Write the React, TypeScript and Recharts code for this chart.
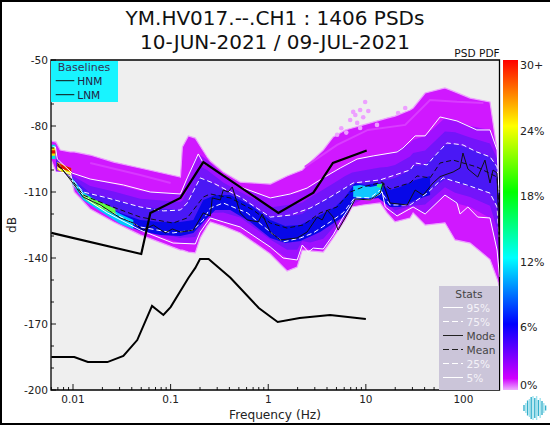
import React from "react";
import {
  ComposedChart,
  Area,
  Line,
  Scatter,
  XAxis,
  YAxis,
  CartesianGrid,
  ReferenceArea,
} from "recharts";

const X_MIN = 0.00595;
const X_MAX = 234;
const Y_MIN = -200;
const Y_MAX = -50;

const xMajor = [0.01, 0.1, 1, 10, 100];
const xMinor = [
  0.006, 0.007, 0.008, 0.009, 0.02, 0.03, 0.04, 0.05, 0.06, 0.07, 0.08, 0.09, 0.2, 0.3, 0.4, 0.5, 0.6,
  0.7, 0.8, 0.9, 2, 3, 4, 5, 6, 7, 8, 9, 20, 30, 40, 50, 60, 70, 80, 90, 200,
];
const yMajor = [-200, -170, -140, -110, -80, -50];
const yMinor = [-190, -180, -160, -150, -130, -120, -100, -90, -70, -60];

const bandFreq = [
  0.006, 0.0067, 0.0074, 0.0094, 0.0103, 0.015, 0.0261, 0.0488, 0.126, 0.132, 0.152, 0.179, 0.201, 0.237, 0.255,
  0.346, 0.517, 1.05, 1.56, 1.98, 2.23, 2.69, 3.66, 4.63, 6.14, 7.24, 9.38, 14, 16.5, 19.9, 28.4, 30.5, 40.5, 64.6,
  82, 117, 187, 221, 234,
];
const outerHigh = [
  -86.8, -87.3, -90.9, -91.8, -91.8, -93.2, -96.4, -99.1, -103.2, -89.5, -84.5, -85.5, -89.1, -94.1, -95.9, -100.9,
  -105.5, -106.4, -102.7, -100.9, -100, -96.4, -90.9, -85, -81.8, -80.9, -79.5, -77.3, -76.4, -75.5, -72.7, -71.8,
  -65, -62.7, -64.5, -67.3, -69.1, -90.9, -113.6,
];
const outerLow = [
  -95.5, -100.9, -100.9, -102.3, -110, -117.7, -123.6, -129.5, -136.4, -136.4, -137.3, -137.7, -130.9, -125.5,
  -123.6, -125.5, -128.6, -138.2, -145.9, -144.1, -136.4, -136.8, -137.3, -130.9, -122.7, -116.8, -115.9, -115,
  -119.5, -123.6, -121.8, -119.5, -125, -124, -131.8, -133.2, -140.7, -149.4, -153,
];
const midFreq = bandFreq.slice(1);
const band95 = [
  -90.9, -96.8, -100, -101.8, -104.1, -106.4, -109.5, -110.9, -110, -102.7, -94.5, -93.2, -95.5, -96.8, -102.3,
  -107.7, -112.7, -110.9, -110.5, -109.5, -107.7, -103.6, -100.9, -97.7, -95.9, -94.5, -93.2, -92.7, -91.8, -87.7,
  -86.4, -84.5, -76.4, -77.3, -80, -81.8, -90.9, -109.1,
];
const band5 = [
  -100.9, -100.9, -101.4, -107.3, -115.5, -121.4, -127.3, -133.2, -133.2, -133.6, -133.6, -128.2, -122.7, -121.8,
  -123.6, -125.9, -135, -140, -140.9, -134.1, -136.4, -135.9, -129.5, -121.4, -115.9, -113.2, -110, -116.8, -120.9,
  -116.8, -116.8, -120, -111.4, -115, -116.8, -121.8, -136.4, -148.6,
];
const innerHigh = [
  -93.2, -97.2, -101.6, -103.1, -107.3, -109.8, -113.1, -114.5, -113.9, -108.4, -100.9, -98.4, -100, -101.1, -105.7,
  -110, -117, -115.9, -115.5, -114.8, -112.5, -108.9, -106.1, -102.7, -101.1, -100.2, -98.9, -98.6, -97.7, -93.9,
  -92.3, -91.1, -82.5, -82.8, -85.2, -88, -94.8, -109.8,
];
const innerLow = [
  -100, -100.5, -102.5, -107, -115, -120.5, -126.6, -130.9, -130.7, -130.7, -130.5, -126.4, -121.4, -119.6, -119.3,
  -121.6, -131.6, -136.2, -136.2, -132.3, -133, -131.2, -126.1, -119.8, -114.6, -112.8, -109.6, -115.2, -118.4, -116.4,
  -116.2, -115.7, -107.8, -110.3, -112.3, -116.2, -126.6, -139.6,
];
const band75 = [
  -95.5, -97.7, -103.2, -104.5, -110.5, -113.2, -116.8, -118.2, -117.7, -114.1, -107.3, -103.6, -104.5, -105.5,
  -109.1, -112.3, -121.4, -120.9, -120.5, -120, -117.3, -114.1, -111.4, -107.7, -106.4, -105.9, -104.5, -104.5,
  -103.6, -100, -98.2, -97.7, -88.6, -88.2, -90.5, -94.1, -98.6, -110.5,
];
const band25 = [
  -99.1, -100, -103.6, -106.8, -114.5, -119.5, -125.9, -128.6, -128.2, -127.7, -127.3, -124.5, -120, -117.3, -115,
  -117.3, -128.2, -132.3, -131.4, -130.5, -129.5, -126.4, -122.7, -118.2, -113.2, -112.3, -109.1, -113.6, -115.9,
  -115.9, -115.5, -111.4, -104.1, -105.5, -107.7, -110.5, -116.8, -130.5,
];
const coreFreq = [
  0.0098, 0.0127, 0.019, 0.0305, 0.0488, 0.0781, 0.126, 0.171, 0.216, 0.287, 0.408, 0.654, 1.05, 1.49, 2.13, 3.4,
  4.85, 6.14, 7.77, 9.84, 13.4, 17.7, 22.4, 32, 45.5,
];
const coreHigh = [
  -103.6, -110.5, -115, -119.5, -122.7, -123.6, -123.6, -122.7, -113.6, -111.4, -111.4, -115.9, -122.7, -125.5, -125,
  -120.5, -116.8, -112.3, -105.9, -106.8, -105.9, -109.1, -107.7, -104.5, -102.7,
];
const coreLow = [
  -105.9, -113.2, -117.7, -124.1, -127.7, -129.5, -130, -128.6, -123.6, -118.2, -118.2, -123.6, -130.9, -133.2,
  -132.3, -128.2, -123.6, -120.9, -113.6, -113.6, -112.7, -116.8, -116.8, -113.6, -111.4,
];
const cyanLowFreq = [0.0098, 0.0127, 0.019, 0.0305, 0.0415];
const cyanLowHigh = [-103.6, -110, -115, -120, -122.7];
const cyanLowLow = [-106.4, -113.6, -118.7, -124.5, -126.8];
const greenLowFreq = [0.0127, 0.017, 0.0225, 0.0272];
const greenLowHigh = [-110.9, -113.6, -115.9, -117.7];
const greenLowLow = [-112.7, -116.4, -118.7, -120.5];
const hotFreq = [0.0069, 0.0096];
const yellowHigh = [-96.4, -99.3];
const yellowLow = [-100, -102.5];
const redHigh = [-96.8, -99.1];
const redLow = [-98.8, -100.9];
const spotFreq = [0.006, 0.0066];
const spotCyanHigh = [-88.5, -88.5];
const spotCyanLow = [-95, -95];
const spotYellowHigh = [-89.8, -89.8];
const spotYellowLow = [-93.5, -93.5];
const spotRedHigh = [-91, -91];
const spotRedLow = [-92.5, -92.5];
const cyanHumpFreq = [7.42, 8.74, 11.1, 14, 14.7];
const cyanHumpHigh = [-107.3, -106.8, -107.7, -106.8, -105.9];
const cyanHumpLow = [-112.3, -112.7, -112.7, -111.4, -109.1];
const greenHumpFreq = [13, 14.7];
const greenHumpHigh = [-106.4, -106.4];
const greenHumpLow = [-107.7, -108.2];
const streakRightFreq = [2.37, 5.08, 10.5, 25.3, 45.5, 85.8, 160];
const streakRight = [-98.6, -88.6, -81.8, -79.5, -68.2, -69, -69.5];
const streakLeftFreq = [0.015, 0.0488, 0.1];
const streakLeft = [-96.8, -102.3, -105.9];

const p95Freq = [
  0.0062, 0.0066, 0.0069, 0.0098, 0.015, 0.0328, 0.0618, 0.126, 0.148, 0.192, 0.216, 0.346, 0.517, 1.05, 1.68, 2.5,
  3.66, 5.46, 8.15, 11.9, 20.9, 24, 32, 40.5, 57.6, 85.8, 137, 187, 221, 231,
];
const p95 = [
  -89.5, -89.5, -95, -101.4, -104.1, -106.8, -110, -110.9, -103.6, -92.7, -96.8, -102.3, -107.7, -112.7, -110.9,
  -108.2, -103.6, -99.1, -95, -93.6, -91.8, -90, -84.5, -84.5, -75.9, -77.7, -81.8, -81.8, -90.9, -109.1,
];
const p5Freq = [
  0.0066, 0.0094, 0.0101, 0.014, 0.0225, 0.0488, 0.106, 0.179, 0.201, 0.255, 0.346, 0.517, 1.05, 1.42, 1.98, 2.23,
  2.57, 2.89, 3.66, 4.63, 5.85, 7.77, 11.1, 14.7, 15.8, 20.9, 30.5, 40.5, 64.6, 85.8, 92.3, 111, 140, 187, 221, 234,
];
const p5 = [
  -100.9, -101.4, -106.8, -113.6, -119.5, -127.3, -133.2, -133.6, -128.2, -121.8, -123.6, -125.9, -135, -140, -140.9,
  -134.1, -137.3, -135.5, -135.9, -129.5, -121.4, -113.2, -113.6, -110, -116.8, -120.9, -116.8, -120, -111.4, -115,
  -120, -116.8, -121.4, -121.8, -136.4, -148.6,
];
const p75Freq = [
  0.0069, 0.0094, 0.0127, 0.0225, 0.0488, 0.0843, 0.126, 0.148, 0.201, 0.273, 0.517, 1.05, 1.68, 2.69, 4.31, 7.42,
  14, 28.4, 32, 42.4, 48.8, 67.6, 98.8, 137, 187, 221, 231,
];
const p75 = [
  -96.8, -103.2, -110, -112.7, -116.8, -118.6, -118.2, -115, -103.6, -105.9, -112.3, -121.4, -120.5, -117.3, -112.3,
  -105.9, -104.5, -100, -96.8, -97.7, -94.5, -87.7, -88.6, -91.8, -94, -98.6, -110.5,
];
const p25Freq = [
  0.0069, 0.0101, 0.014, 0.0225, 0.0488, 0.106, 0.171, 0.216, 0.255, 0.346, 0.61, 1.05, 1.42, 2.13, 2.89, 4.31, 5.85,
  7.77, 11.1, 14, 17.7, 28.4, 42.4, 62, 108, 187, 221, 231,
];
const p25 = [
  -98.6, -105.9, -112.7, -118.2, -125.9, -128.6, -127.3, -122.7, -117.3, -115, -119.5, -128.2, -132.7, -130.9, -128.6,
  -123.6, -119.5, -112.3, -112.7, -109.1, -115.9, -115.9, -110.5, -103.6, -106.8, -110.5, -116.8, -130.5,
];
const meanFreq = [
  0.0069, 0.0094, 0.0127, 0.0225, 0.0488, 0.106, 0.148, 0.216, 0.255, 0.408, 0.702, 1.05, 1.56, 2.28, 3.4, 5.08, 6.91,
  9.38, 14.7, 17.7, 28.4, 33.4, 45.5, 57.6, 78.4, 137, 221, 231,
];
const mean = [
  -97.7, -103.6, -111.4, -115.9, -121.4, -124.1, -121.8, -112.3, -110.9, -112.7, -118.2, -124.1, -126.4, -125, -119.5,
  -116.8, -110, -107.7, -105.5, -108.6, -105.9, -102.7, -103.6, -96.8, -95.5, -98.6, -103.2, -118.2,
];
const modeFreq = [
  0.0069, 0.0098, 0.0127, 0.019, 0.0305, 0.0415, 0.0526, 0.0664, 0.0883, 0.104, 0.126, 0.171, 0.216, 0.255, 0.267,
  0.323, 0.346, 0.389, 0.428, 0.517, 0.61, 0.79, 0.868, 1.05, 1.33, 1.98, 2.5, 3.17, 3.57, 4.01, 4.63, 5.2, 6.58, 7.77,
  11.1, 14, 15, 17.7, 26.5, 32, 38.6, 48.8, 57.6, 78.4, 92.3, 98.8, 111, 140, 166, 187, 201, 221, 228, 234,
];
const mode = [
  -96.8, -105.5, -112.3, -115.9, -121.8, -124.1, -127.3, -125, -128.6, -126.8, -128.2, -127.3, -119.5, -120.9, -112.7,
  -113.6, -109.1, -110, -107.7, -119.5, -122.7, -123.6, -120, -128.2, -131.8, -130.9, -128.2, -121.4, -122.7, -118.2,
  -121.4, -127.3, -119.5, -113.2, -113.6, -110.5, -105.9, -115, -115.9, -109.1, -111.4, -105.9, -103, -100.9, -99.1,
  -92.3, -99.5, -103.2, -95.5, -105.9, -100, -101.4, -121.4, -140.9,
];
const hnmFreq = [0.006, 0.05, 0.062, 0.126, 0.216, 1.27, 2.9, 4.6, 10.2];
const hnm = [-128.6, -138.2, -119.5, -112.7, -96.4, -119.5, -110.3, -96.8, -91.1];
const lnmFreq = [0.006, 0.0103, 0.0142, 0.0225, 0.0328, 0.0455, 0.0645, 0.0843, 0.1, 0.152, 0.179, 0.2, 0.245, 0.41, 0.8, 1.25, 2.1, 4.3, 10];
const lnm = [-185, -185, -187.3, -187.3, -184.5, -177.3, -161.8, -165.9, -162.3, -149.1, -144.5, -140.5, -140.5, -149, -162.7, -169.1, -167.3, -165.9, -167.7];
const speckleFreq = [9.84, 10.6, 8.74, 7.42, 6.91, 8.15, 8.74, 5.08, 13, 21.4, 25.3, 9.4, 7.8, 6.3, 5.6];
const speckleDb = [-69.1, -73.2, -72.7, -73.6, -77.3, -78.6, -80.9, -84, -79.5, -74.1, -71.8, -76, -75, -83, -81];

const colorStops: [number, string][] = [
  [0, "#ff0000"],
  [0.2, "#ffff00"],
  [0.4, "#00ff00"],
  [0.6, "#00ffff"],
  [0.8, "#0000ff"],
  [0.965, "#d000ff"],
  [1, "#eeb0ff"],
];
const colorLabels = ["30+", "24%", "18%", "12%", "6%", "0%"];
const statsRows = [
  { label: "95%", color: "#ffffff", dash: "" },
  { label: "75%", color: "#ffffff", dash: "6 3" },
  { label: "Mode", color: "#222222", dash: "" },
  { label: "Mean", color: "#222222", dash: "6 3" },
  { label: "25%", color: "#ffffff", dash: "6 3" },
  { label: "5%", color: "#ffffff", dash: "" },
];
const logoHeights = [6, 10, 15, 18, 22, 24, 20, 24, 16, 20, 14, 10, 5];

const FONT = "'DejaVu Sans', sans-serif";

const rows = (f: number[], v: number[]) => f.map((x, i) => ({ f: x, db: v[i] }));
const band = (f: number[], hi: number[], lo: number[]) => f.map((x, i) => ({ f: x, band: [lo[i], hi[i]] }));

function XTick(props: any) {
  const { x, y, payload } = props;
  const major = xMajor.includes(payload.value);
  return (
    <g>
      <line x1={x} x2={x} y1={y} y2={y - (major ? 6 : 3)} stroke="#000" strokeWidth={0.9} />
      {major ? (
        <text x={x} y={y + 13} textAnchor="middle" fontSize={10.5} fontFamily={FONT} fill="#222">
          {payload.value}
        </text>
      ) : null}
    </g>
  );
}

function YTick(props: any) {
  const { x, y, payload } = props;
  const major = yMajor.includes(payload.value);
  return (
    <g>
      <line x1={x} x2={x + (major ? 5 : 3)} y1={y} y2={y} stroke="#000" strokeWidth={0.9} />
      {major ? (
        <text x={x - 3} y={y + 4} textAnchor="end" fontSize={10.6} fontFamily={FONT} fill="#222">
          {payload.value}
        </text>
      ) : null}
    </g>
  );
}

function BandArea(d: any[], fill: string, stroke = "none", key = fill) {
  return (
    <Area
      key={key}
      data={d}
      dataKey="band"
      type="linear"
      fill={fill}
      fillOpacity={1}
      stroke={stroke}
      strokeWidth={stroke === "none" ? 0 : 1.2}
      dot={false}
      activeDot={false}
      isAnimationActive={false}
      legendType="none"
    />
  );
}

function StatLine(d: any[], color: string, dash: string, width: number, key: string) {
  return (
    <Line
      key={key}
      data={d}
      dataKey="db"
      type="linear"
      stroke={color}
      strokeWidth={width}
      strokeDasharray={dash}
      dot={false}
      activeDot={false}
      isAnimationActive={false}
      legendType="none"
    />
  );
}

function Overlay() {
  return (
    <svg width={550} height={425} style={{ position: "absolute", left: 0, top: 0, pointerEvents: "none" }} fontFamily={FONT}>
      <defs>
        <linearGradient id="cbar" x1="0" y1="0" x2="0" y2="1">
          {colorStops.map(([o, c]) => (
            <stop key={o} offset={o} stopColor={c} />
          ))}
        </linearGradient>
      </defs>
      <path d="M550 1 H1 V424 H550" fill="none" stroke="#000" strokeWidth={2} />
      <text x={275} y={25} textAnchor="middle" fontSize={20} fill="#111">
        YM.HV017.--.CH1 : 1406 PSDs
      </text>
      <text x={275} y={49} textAnchor="middle" fontSize={20} fill="#111">
        10-JUN-2021 / 09-JUL-2021
      </text>
      <text x={477} y={57} textAnchor="middle" fontSize={10.6} fill="#111">
        PSD PDF
      </text>
      <text x={275} y={419} textAnchor="middle" fontSize={12.2} fill="#222">
        Frequency (Hz)
      </text>
      <text x={16} y={225} textAnchor="middle" fontSize={12.2} fill="#222" transform="rotate(-90 16 225)">
        dB
      </text>

      <rect x={503} y={60} width={15} height={330} fill="url(#cbar)" />
      {colorLabels.map((t, i) => (
        <text key={t} x={520} y={69 + i * 65.6 - (i === 5 ? 8 : 0)} fontSize={11} fill="#222">
          {t}
        </text>
      ))}

      <rect x={51} y={61} width={67} height={41} fill="#18f4ff" />
      <text x={84} y={71} textAnchor="middle" fontSize={11} fill="#335">
        Baselines
      </text>
      <line x1={55.7} x2={74.3} y1={80.7} y2={80.7} stroke="#111" strokeWidth={1} />
      <text x={77.3} y={84.5} fontSize={10.6} fill="#224">
        HNM
      </text>
      <line x1={55.7} x2={74.3} y1={94.7} y2={94.7} stroke="#111" strokeWidth={1} />
      <text x={77.3} y={98.5} fontSize={10.6} fill="#224">
        LNM
      </text>

      <rect x={439} y={286} width={60} height={104} fill="#cbc5d9" />
      <text x={469} y={298} textAnchor="middle" fontSize={10.7} fill="#444">
        Stats
      </text>
      {statsRows.map((r, i) => (
        <g key={r.label}>
          <line x1={443} x2={463} y1={307.5 + i * 14} y2={307.5 + i * 14} stroke={r.color} strokeWidth={1} strokeDasharray={r.dash} />
          <text x={466.5} y={311.5 + i * 14} fontSize={10.6} fill={r.color === "#ffffff" ? "#f4f2f8" : "#444"}>
            {r.label}
          </text>
        </g>
      ))}

      {logoHeights.map((h, i) => (
        <line
          key={i}
          x1={524 + i * 1.8}
          x2={524 + i * 1.8}
          y1={408 - h / 2}
          y2={408 + h / 2}
          stroke={i % 2 ? "#9fe2ee" : "#35b0cc"}
          strokeWidth={1.4}
        />
      ))}
    </svg>
  );
}

export default function App() {
  return (
    <div style={{ position: "absolute", left: 0, top: 0, width: 550, height: 425, background: "#fff" }}>
      <ComposedChart width={550} height={425} margin={{ top: 60, right: 50.5, bottom: 0, left: 0 }}>
        <CartesianGrid horizontal={false} vertical={false} fill="#efefef" />
        <XAxis
          type="number"
          dataKey="f"
          scale="log"
          domain={[X_MIN, X_MAX]}
          allowDataOverflow
          ticks={[...xMinor, ...xMajor]}
          interval={0}
          height={35}
          tickLine={false}
          tickSize={0}
          tickMargin={0}
          axisLine={false}
          tick={<XTick />}
        />
        <YAxis
          type="number"
          domain={[Y_MIN, Y_MAX]}
          allowDataOverflow
          ticks={[...yMinor, ...yMajor]}
          interval={0}
          width={51}
          tickLine={false}
          tickSize={0}
          tickMargin={0}
          axisLine={false}
          tick={<YTick />}
        />
        {BandArea(band(bandFreq, outerHigh, outerLow), "#d018ff", "#eda0ff", "outer")}
        <Scatter
          data={rows(speckleFreq, speckleDb)}
          dataKey="db"
          isAnimationActive={false}
          legendType="none"
          shape={(p: any) => <circle cx={p.cx} cy={p.cy} r={2.3} fill="#eda0ff" />}
        />
        {StatLine(rows(streakRightFreq, streakRight), "#d93cff", "", 2, "streakRight")}
        {StatLine(rows(streakLeftFreq, streakLeft), "#d838ff", "", 2, "streakLeft")}
        {BandArea(band(midFreq, band95, band5), "#a010ff", "none", "mid")}
        {BandArea(band(midFreq, innerHigh, innerLow), "#7414fa", "none", "inner")}
        {BandArea(band(midFreq, band75, band25), "#4a18f5", "none", "quart")}
        {BandArea(band(coreFreq, coreHigh, coreLow), "#0808e8", "none", "core")}
        {BandArea(band(cyanLowFreq, cyanLowHigh, cyanLowLow), "#00c8ff", "none", "cyanLow")}
        {BandArea(band(greenLowFreq, greenLowHigh, greenLowLow), "#60ff40", "none", "greenLow")}
        {BandArea(band(hotFreq, yellowHigh, yellowLow), "#e8f000", "none", "yellow")}
        {BandArea(band(hotFreq, redHigh, redLow), "#e01000", "none", "red")}
        {BandArea(band(spotFreq, spotCyanHigh, spotCyanLow), "#00e0e8", "none", "spotCyan")}
        {BandArea(band(spotFreq, spotYellowHigh, spotYellowLow), "#f0e000", "none", "spotYellow")}
        {BandArea(band(spotFreq, spotRedHigh, spotRedLow), "#e01000", "none", "spotRed")}
        {BandArea(band(cyanHumpFreq, cyanHumpHigh, cyanHumpLow), "#10c8ff", "none", "cyanHump")}
        {BandArea(band(greenHumpFreq, greenHumpHigh, greenHumpLow), "#30f080", "none", "greenHump")}
        {StatLine(rows(p95Freq, p95), "#ffffff", "", 1, "p95")}
        {StatLine(rows(p5Freq, p5), "#ffffff", "", 1, "p5")}
        {StatLine(rows(p75Freq, p75), "#ffffff", "5 3", 1, "p75")}
        {StatLine(rows(p25Freq, p25), "#ffffff", "5 3", 1, "p25")}
        {StatLine(rows(meanFreq, mean), "#111111", "5 3", 1, "mean")}
        {StatLine(rows(modeFreq, mode), "#111111", "", 1, "mode")}
        {StatLine(rows(hnmFreq, hnm), "#000000", "", 2.2, "hnm")}
        {StatLine(rows(lnmFreq, lnm), "#000000", "", 2, "lnm")}
        <ReferenceArea x1={X_MIN} x2={X_MAX} y1={Y_MIN} y2={Y_MAX} fill="none" stroke="#000" strokeWidth={1.3} />
      </ComposedChart>
      <Overlay />
    </div>
  );
}
